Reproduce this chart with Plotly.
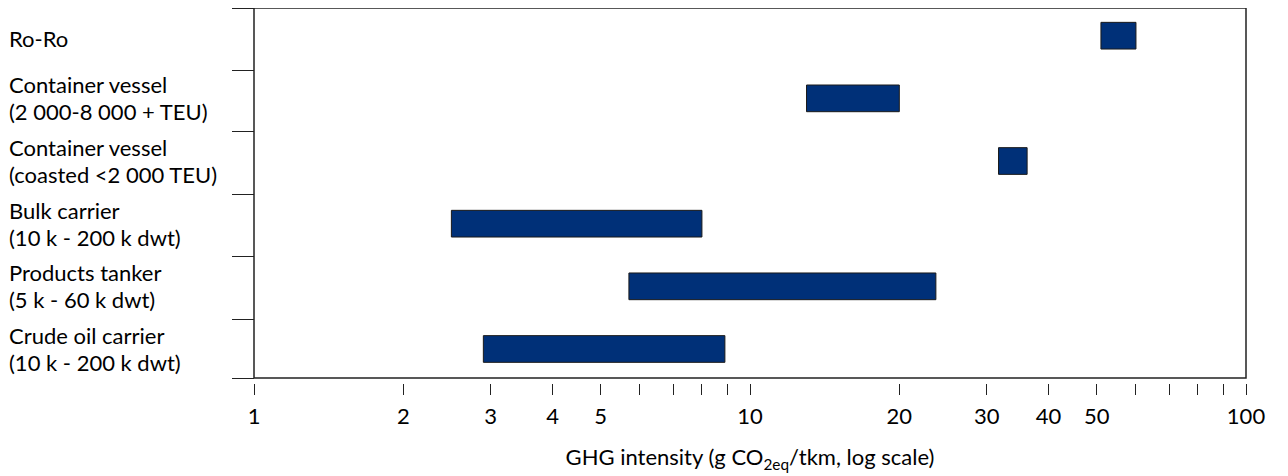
import plotly.graph_objects as go

categories = [
    "Crude oil carrier<br>(10 k - 200 k dwt)",
    "Products tanker<br>(5 k - 60 k dwt)",
    "Bulk carrier<br>(10 k - 200 k dwt)",
    "Container vessel<br>(coasted <2 000 TEU)",
    "Container vessel<br>(2 000-8 000 + TEU)",
    "Ro-Ro",
]
low = [2.9, 5.7, 2.5, 31.7, 13.0, 51]
high = [8.9, 23.7, 8.0, 36.2, 20.0, 60]

x_tickvals = [1, 2, 3, 4, 5, 6, 7, 8, 9, 10, 20, 30, 40, 50, 60, 70, 80, 90, 100]
x_ticktext = ["1", "2", "3", "4", "5", "", "", "", "", "10", "20", "30", "40", "50", "", "", "", "", "100"]

FONT = "Lato"
BAR = "#003078"

idx = list(range(len(categories)))
fig = go.Figure()
fig.add_trace(go.Bar(
    y=idx, x=[h - l for l, h in zip(low, high)], base=low, orientation="h",
    width=0.426, marker=dict(color=BAR, line=dict(color="#1a1a1a", width=1)),
    hoverinfo="skip", showlegend=False,
))

HALF_GAP = 13.5
for i, c in enumerate(categories):
    lines = c.split("<br>")
    n = len(lines)
    for k, ln in enumerate(lines):
        shift = ((n - 1) / 2 - k) * 2 * HALF_GAP if n > 1 else -3
        fig.add_annotation(x=-0.249, xref="paper", y=i, yref="y", text=ln, showarrow=False,
                           xanchor="left", yanchor="middle", align="left", yshift=shift,
                           font=dict(family=FONT, size=22, color="#000"))

fig.add_shape(type="rect", xref="x domain", yref="y domain", x0=0, x1=1, y0=0, y1=1,
              line=dict(color="#222", width=1.5), fillcolor="rgba(0,0,0,0)")

W, H = 1280, 468
ml, mr, mt, mb = 246, 42, 0, 93
plot_h = H - mt - mb
y0, y1 = -0.463, 5.442
fig.update_layout(
    width=W, height=H,
    margin=dict(l=ml, r=mr, t=mt, b=mb),
    plot_bgcolor="white", paper_bgcolor="white",
    font=dict(family=FONT, size=22, color="#000"),
    xaxis=dict(type="log", range=[0, 2], tickvals=x_tickvals, ticktext=x_ticktext,
               ticks="outside", ticklen=11, tickwidth=1.2, tickcolor="#222",
               showgrid=False, zeroline=False, showline=False,
               anchor="free", position=0, ticklabelstandoff=3,
               title=dict(text="GHG intensity (g CO<sub>2eq</sub>/tkm, log scale)",
                          font=dict(family=FONT, size=22), standoff=21),
               tickfont=dict(family=FONT, size=22)),
    yaxis=dict(range=[y0, y1], tickvals=[y0, 0.47, 1.47, 2.47, 3.47, 4.44, y1],
               showticklabels=False, ticks="outside", ticklen=22, tickwidth=1.2,
               tickcolor="#222", showgrid=False, zeroline=False, showline=False,
               domain=[5 / plot_h, 1], anchor="free", position=0),
)

fig.write_html("out.html")
